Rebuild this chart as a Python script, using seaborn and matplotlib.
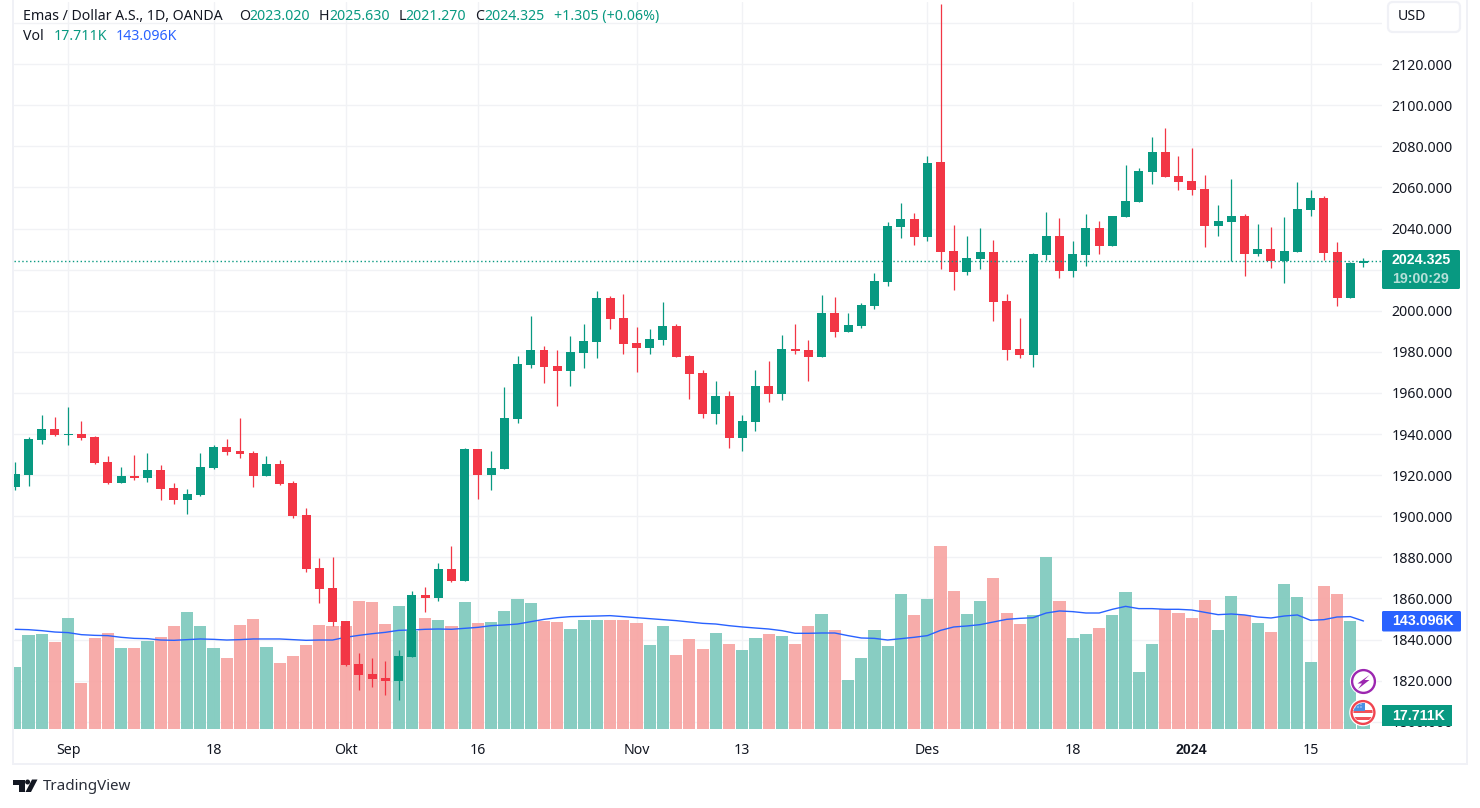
import numpy as np
import pandas as pd
import matplotlib
matplotlib.use('Agg')
import matplotlib.pyplot as plt
from matplotlib.patches import Circle, FancyBboxPatch, Polygon, Rectangle
import seaborn as sns

# daily XAU/USD candles
opens = [1914.3, 1920.2, 1937.2, 1942.6, 1939.7, 1940.2, 1938.7, 1926.5, 1916.3, 1919.7,
         1918.7, 1922.6, 1913.8, 1908.0, 1910.4, 1923.6, 1933.8, 1931.9, 1930.9, 1919.7,
         1925.5, 1916.3, 1900.7, 1874.8, 1865.0, 1849.0, 1828.0, 1823.1, 1821.1, 1819.7,
         1831.4, 1861.6, 1860.2, 1874.3, 1868.4, 1932.7, 1920.0, 1923.0, 1947.3, 1973.6,
         1980.9, 1973.1, 1970.6, 1979.4, 1984.8, 2006.2, 1996.4, 1984.3, 1981.8, 1985.7,
         1992.5, 1977.9, 1969.6, 1949.6, 1958.4, 1938.0, 1945.8, 1963.3, 1959.4, 1981.3,
         1980.8, 1977.4, 1998.8, 1989.6, 1992.5, 2002.2, 2013.9, 2040.6, 2044.5, 2035.8,
         2072.3, 2029.0, 2018.7, 2025.0, 2028.5, 2004.6, 1981.6, 1978.7, 2027.0, 2036.3,
         2019.2, 2027.0, 2040.2, 2031.4, 2045.5, 2052.8, 2067.5, 2077.2, 2065.5, 2063.1,
         2059.2, 2041.1, 2043.1, 2046.0, 2027.5, 2029.9, 2024.1, 2028.5, 2048.9, 2054.8,
         2028.5, 2006.0, 2023.02]
closes = [1920.7, 1937.7, 1942.6, 1939.7, 1940.2, 1938.2, 1926.0, 1916.3, 1919.7, 1918.7,
          1922.6, 1913.3, 1908.0, 1910.9, 1924.1, 1933.8, 1931.4, 1930.4, 1919.7, 1925.5,
          1915.8, 1900.2, 1874.3, 1864.6, 1848.5, 1827.5, 1822.6, 1820.7, 1819.7, 1831.9,
          1861.6, 1860.2, 1874.3, 1868.5, 1932.7, 1920.0, 1923.4, 1947.8, 1974.0, 1980.9,
          1972.6, 1970.6, 1979.9, 1985.2, 2006.2, 1995.9, 1983.8, 1981.8, 1986.2, 1992.5,
          1977.4, 1969.1, 1949.6, 1958.4, 1938.0, 1946.3, 1963.3, 1959.4, 1981.3, 1980.3,
          1977.4, 1998.8, 1989.6, 1993.0, 2002.7, 2014.4, 2041.1, 2044.5, 2035.8, 2071.8,
          2028.5, 2018.8, 2025.5, 2028.5, 2004.1, 1981.1, 1978.7, 2027.5, 2036.3, 2019.2,
          2027.5, 2040.2, 2031.4, 2046.0, 2053.3, 2068.0, 2077.2, 2065.0, 2062.6, 2058.7,
          2041.1, 2043.6, 2046.0, 2027.5, 2029.9, 2024.1, 2028.9, 2049.4, 2054.8, 2028.0,
          2006.0, 2023.1, 2024.325]
highs = [1926.5, 1938.7, 1949.4, 1948.5, 1953.3, 1946.5, 1939.2, 1929.4, 1924.1, 1929.9,
         1930.9, 1925.0, 1916.3, 1913.3, 1930.9, 1934.8, 1937.7, 1948.0, 1931.9, 1929.4,
         1927.5, 1917.2, 1904.1, 1879.7, 1880.2, 1849.0, 1833.3, 1830.9, 1829.4, 1834.8,
         1863.6, 1865.5, 1877.2, 1885.5, 1933.2, 1932.7, 1931.7, 1962.9, 1977.9, 1997.4,
         1982.8, 1980.9, 1987.7, 1993.5, 2009.6, 2007.1, 2008.1, 1992.1, 1991.0, 2004.2,
         1993.4, 1978.4, 1971.0, 1965.7, 1960.9, 1949.2, 1971.0, 1975.4, 1988.1, 1993.4,
         1985.8, 2007.6, 2006.6, 1998.8, 2003.7, 2018.3, 2043.1, 2052.3, 2047.5, 2075.2,
         2149.0, 2041.6, 2036.3, 2040.2, 2034.3, 2008.0, 1996.7, 2028.0, 2048.0, 2045.0,
         2033.8, 2047.0, 2043.6, 2046.0, 2070.9, 2069.4, 2084.6, 2088.9, 2075.3, 2079.2,
         2066.0, 2051.4, 2064.1, 2047.0, 2042.1, 2040.7, 2045.5, 2062.6, 2058.7, 2055.8,
         2033.3, 2023.6, 2025.63]
lows = [1912.8, 1914.8, 1935.3, 1939.2, 1934.8, 1937.2, 1925.5, 1915.8, 1916.3, 1917.7,
        1916.7, 1908.0, 1906.0, 1901.1, 1909.9, 1923.1, 1929.9, 1928.5, 1914.3, 1919.7,
        1915.3, 1899.2, 1872.8, 1857.7, 1846.5, 1827.0, 1815.3, 1816.7, 1812.8, 1810.4,
        1831.4, 1853.3, 1858.7, 1868.0, 1868.4, 1908.4, 1912.7, 1923.0, 1945.3, 1972.1,
        1964.8, 1953.6, 1963.3, 1972.1, 1977.0, 1991.1, 1978.9, 1970.2, 1978.8, 1983.2,
        1977.4, 1957.0, 1947.7, 1944.8, 1933.1, 1931.6, 1941.4, 1955.5, 1956.5, 1978.8,
        1965.7, 1977.4, 1987.1, 1989.6, 1991.5, 2000.7, 2011.9, 2035.3, 2031.9, 2033.8,
        2020.2, 2010.0, 2017.2, 2020.2, 1994.8, 1975.8, 1977.2, 1972.8, 2024.6, 2015.8,
        2016.3, 2021.6, 2027.5, 2031.4, 2045.5, 2052.8, 2061.6, 2065.0, 2058.7, 2056.3,
        2030.9, 2036.3, 2024.1, 2016.7, 2026.5, 2020.7, 2013.3, 2028.5, 2046.0, 2024.6,
        2002.1, 2006.0, 2021.27]

# volume in thousands
volumes = [82.2, 124.6, 125.9, 115.3, 147.1, 61.0, 120.6, 127.2, 107.3, 107.3,
           116.6, 121.9, 136.5, 155.0, 136.5, 107.3, 94.1, 137.8, 145.8, 108.7,
           87.5, 96.7, 111.3, 137.8, 136.5, 136.5, 169.6, 168.3, 139.1, 163.0,
           129.9, 147.1, 144.4, 136.5, 168.3, 140.5, 141.8, 156.4, 172.3, 167.0,
           143.1, 141.8, 132.5, 144.4, 144.4, 144.4, 144.4, 140.5, 111.3, 136.5,
           98.1, 119.3, 106.0, 127.2, 112.6, 104.7, 120.6, 125.9, 123.2, 112.6,
           136.5, 152.4, 131.2, 64.9, 94.1, 131.2, 110.0, 178.9, 151.1, 172.3,
           242.5, 182.9, 152.4, 169.6, 200.1, 153.7, 139.1, 151.1, 227.9, 169.6,
           120.6, 125.9, 133.8, 151.1, 181.5, 75.5, 112.6, 159.0, 153.7, 147.1,
           170.9, 131.2, 176.2, 151.1, 140.5, 128.5, 192.1, 174.9, 88.8, 189.5,
           178.9, 143.1, 17.711]
volume_ma = [132.1, 131.6, 130.3, 128.5, 127.7, 125.0, 124.1, 123.7, 121.5, 120.1,
             119.7, 117.9, 117.5, 118.4, 119.3, 118.8, 117.9, 118.4, 119.3, 119.3,
             119.3, 118.4, 117.5, 117.9, 117.9, 121.5, 124.1, 126.3, 128.1, 130.7,
             131.2, 132.1, 132.5, 132.1, 133.4, 134.7, 136.9, 137.8, 139.1, 142.2,
             145.3, 147.5, 148.9, 149.3, 149.7, 150.2, 148.9, 147.5, 146.2, 144.9,
             143.6, 141.8, 140.0, 139.1, 136.9, 135.2, 133.8, 132.5, 130.3, 126.8,
             126.8, 127.2, 127.2, 123.7, 120.6, 120.1, 117.9, 119.7, 121.5, 123.7,
             130.7, 135.2, 136.5, 138.3, 141.8, 145.3, 146.6, 147.5, 153.7, 156.4,
             155.5, 153.7, 153.7, 158.6, 162.5, 159.5, 159.5, 158.6, 158.6, 157.7,
             154.6, 151.5, 152.4, 151.1, 148.4, 147.1, 149.7, 151.1, 144.0, 144.9,
             148.4, 148.9, 143.096]

tick_pos = [4, 15, 25, 35, 47, 55, 69, 80, 89, 98]
tick_labels = ['Sep', '18', 'Okt', '16', 'Nov', '13', 'Des', '18', '2024', '15']
price_ticks = [1800, 1820, 1840, 1860, 1880, 1900, 1920, 1940, 1960, 1980, 2000,
               2020, 2040, 2060, 2080, 2100, 2120, 2140]
# 2020 sits under the last-price box and 2140 under the USD button
hidden_labels = [2020, 2140]
last_price = 2024.325

GREEN = '#089981'
RED = '#f23645'
VOL_GREEN = '#84ccc0'
VOL_RED = '#f7a9a7'
BLUE = '#2962ff'
GRID = '#f1f2f5'
FRAME = '#f0f1f6'
INK = '#131722'
FONT = 'Noto Sans'
BOLD_FONT = 'Liberation Sans'
FS = 10.2

sns.set_theme(style='white')
plt.rcParams['font.family'] = [FONT, 'DejaVu Sans']
plt.rcParams['font.size'] = FS

df = pd.DataFrame({'day': np.arange(len(opens)), 'open': opens, 'high': highs, 'low': lows,
                   'close': closes, 'volume': volumes, 'ma': volume_ma})
df['dir'] = np.where(df['close'] >= df['open'], 'up', 'down')
df['body_low'] = df[['open', 'close']].min(axis=1)
df['body'] = (df['open'] - df['close']).abs()

W, H = 1480, 808
fig = plt.figure(figsize=(W / 100, H / 100), dpi=100, facecolor='white')
pos = [14 / W, 1 - 729 / H, (1382 - 14) / W, (729 - 2) / H]

# three stacked axes: grid at the back, then volume, then candles
ax_grid = fig.add_axes(pos)
ax_vol = fig.add_axes(pos, sharex=ax_grid)
ax = fig.add_axes(pos, sharex=ax_grid, sharey=ax_grid)

sns.barplot(data=df, x='day', y='volume', hue='dir', palette={'up': VOL_GREEN, 'down': VOL_RED},
            dodge=False, native_scale=True, width=0.92, saturation=1, errorbar=None,
            legend=False, alpha=0.97, linewidth=0, ax=ax_vol)
sns.lineplot(data=df, x='day', y='ma', color=BLUE, lw=1.0, ax=ax_vol)

ax.vlines(df.loc[df['dir'] == 'up', 'day'], df.loc[df['dir'] == 'up', 'low'],
          df.loc[df['dir'] == 'up', 'high'], color=GREEN, lw=0.9)
ax.vlines(df.loc[df['dir'] == 'down', 'day'], df.loc[df['dir'] == 'down', 'low'],
          df.loc[df['dir'] == 'down', 'high'], color=RED, lw=0.9)
for name, col in [('up', GREEN), ('down', RED)]:
    part = df[df['dir'] == name]
    sns.barplot(x=part['day'].values, y=part['body'].values, bottom=part['body_low'].values,
                native_scale=True, width=0.68, color=col, saturation=1, errorbar=None,
                linewidth=0, ax=ax)
ax.axhline(last_price, color=GREEN, lw=1.0, ls=(0, (1, 1.8)))

ax_grid.set_xlim(-0.098, 103.4)
ax_grid.set_ylim(1796.5, 2150.2)
ax_vol.set_ylim(0, 963.3)

ax_grid.set_xticks(tick_pos)
ax_grid.set_xticklabels(tick_labels)
ax_grid.set_yticks(price_ticks)
ax_grid.set_yticklabels(['' if p in hidden_labels else '%.3f' % p for p in price_ticks])
ax_grid.yaxis.tick_right()
ax_grid.grid(True, color=GRID, lw=1.0)
ax_grid.set_axisbelow(True)
ax_grid.tick_params(axis='y', length=0, pad=7, labelsize=FS, labelcolor=INK)
ax_grid.tick_params(axis='x', length=0, pad=10, labelsize=FS, labelcolor=INK)
for lab in ax_grid.get_xticklabels():
    if lab.get_text() == '2024':
        lab.set_family(BOLD_FONT)
        lab.set_fontweight('bold')
for s in ax_grid.spines.values():
    s.set_visible(False)
for a in (ax_vol, ax):
    a.set_axis_off()
    a.patch.set_visible(False)

# overlay in pixel units for the TradingView furniture
ov = fig.add_axes([0, 0, 1, 1], zorder=10)
ov.set_xlim(0, W)
ov.set_ylim(H, 0)
ov.set_axis_off()
ov.patch.set_visible(False)

# outer frame
ov.add_patch(Rectangle((12, 0), 2, 765, color=FRAME, lw=0))
ov.add_patch(Rectangle((1466, 0), 2, 765, color=FRAME, lw=0))
ov.add_patch(Rectangle((12, 763), 1456, 2, color=FRAME, lw=0))

# header rows
def head(x, y, s, col=INK):
    ov.text(x, y, s, color=col, fontsize=FS, va='center', ha='left')

head(23, 16.5, 'Emas / Dollar A.S., 1D, OANDA')
for x, s in [(239.5, 'O'), (319, 'H'), (398.5, 'L'), (475, 'C')]:
    head(x, 16.5, s)
for x, s in [(249, '2023.020'), (329, '2025.630'), (405, '2021.270'), (484, '2024.325'),
             (553.5, '+1.305 (+0.06%)')]:
    head(x, 16.5, s, GREEN)
head(23, 36.5, 'Vol')
head(53.5, 36.5, '17.711K', GREEN)
head(116, 36.5, '143.096K', BLUE)

# USD button
ov.add_patch(FancyBboxPatch((1388, 2), 72, 30, boxstyle='round,pad=0,rounding_size=5',
                            fc='white', ec=FRAME, lw=1.6))
head(1398, 17, 'USD')

# price scale labels
def box_label(x, y, s, col='white'):
    ov.text(x, y, s, color=col, fontsize=FS, fontweight='bold', family=BOLD_FONT, va='center')

ov.add_patch(FancyBboxPatch((1382, 250), 78, 39, boxstyle='round,pad=0,rounding_size=1.5',
                            fc=GREEN, ec='none'))
box_label(1392, 260.5, '2024.325')
box_label(1392, 279, '19:00:29', '#b5e0d8')
ov.add_patch(FancyBboxPatch((1382, 611), 79, 20.5, boxstyle='round,pad=0,rounding_size=1.5',
                            fc=BLUE, ec='none'))
box_label(1392, 621, '143.096K')
ov.add_patch(Rectangle((1382, 705), 70, 21, fc=GREEN, ec='none'))
box_label(1392, 715.5, '17.711K')

# event icons
ov.add_patch(Circle((1363.5, 681.5), 13.6, fc='white', ec='none'))
ov.add_patch(Circle((1363.5, 681.5), 11.4, fc='white', ec='#9c27b0', lw=1.7))
ov.add_patch(Polygon([(1369.5, 675), (1357.5, 683.5), (1362, 683.5), (1358, 689), (1369.5, 680),
                      (1364.5, 680)], fc='#9c27b0', ec='none'))
ov.add_patch(Circle((1363, 712.5), 13.8, fc='white', ec='none'))
clip = Circle((1363, 712.5), 9.6, transform=ov.transData)
for y0 in (710, 716.5):
    stripe = Rectangle((1350, y0), 26, 3.2, fc='#f0525a', ec='none')
    ov.add_patch(stripe)
    stripe.set_clip_path(clip)
canton = Rectangle((1350, 700), 14.5, 11, fc='#4a90e2', ec='none')
ov.add_patch(canton)
canton.set_clip_path(clip)
for dot_x in (1355, 1358, 1361):
    for dot_y in (704, 707):
        ov.add_patch(Circle((dot_x, dot_y), 0.6, fc='white', ec='none'))
ov.add_patch(Circle((1363, 712.5), 11.4, fc='none', ec='#f0444f', lw=1.7))

# TradingView logo and name
ov.add_patch(Polygon([(13, 779.5), (24.5, 779.5), (24.5, 792), (19, 792), (19, 784.5), (13, 784.5)],
                     fc=INK, ec='none'))
ov.add_patch(Circle((27.6, 782), 2.5, fc=INK, ec='none'))
ov.add_patch(Polygon([(32, 779.5), (37.5, 779.5), (31, 792), (25.5, 792)], fc=INK, ec='none'))
ov.text(43, 786.5, 'TradingView', color='#2a2e39', fontsize=10.9, va='center', ha='left')

fig.savefig('out.png', dpi=100, facecolor='white')
